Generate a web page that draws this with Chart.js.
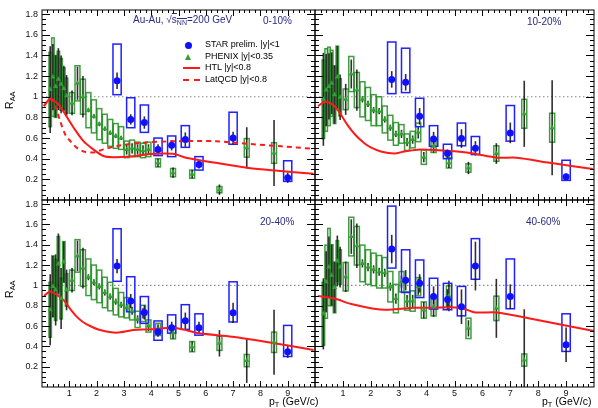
<!DOCTYPE html>
<html>
<head>
<meta charset="utf-8">
<script src="https://cdn.jsdelivr.net/npm/chart.js@4.4.1/dist/chart.umd.min.js"></script>
<style>
  body { margin: 0; background: #fff; }
  #wrap { position: relative; width: 598px; height: 408px; font-family: "Liberation Sans", Arial, sans-serif; }
  #wrap canvas { position: absolute; left: 0; top: 0; }
  .t { position: absolute; white-space: nowrap; line-height: 1; }
  .navy { color: #2b2b86; font-size: 10px; }
  .leg { font-size: 9px; color: #000; }
  .ax { font-size: 10.5px; color: #000; }
  .rot { transform: rotate(-90deg); transform-origin: center center; }
  .ov { text-decoration: overline; }
  sub { font-size: 70%; vertical-align: -2px; line-height: 0; }
</style>
</head>
<body>
<div id="wrap">
  <canvas id="c010" width="598" height="408"></canvas>
  <canvas id="c1020" width="598" height="408"></canvas>
  <canvas id="c2040" width="598" height="408"></canvas>
  <canvas id="c4060" width="598" height="408"></canvas>

  <div class="t navy" style="left:133px;top:15px;">Au-Au, &radic;<span class="ov">s<sub>NN</sub></span>=200 GeV</div>
  <div class="t navy" style="left:263px;top:16px;">0-10%</div>
  <div class="t navy" style="left:527px;top:17px;">10-20%</div>
  <div class="t navy" style="left:260px;top:217px;">20-40%</div>
  <div class="t navy" style="left:526px;top:217px;">40-60%</div>

  <div style="position:absolute;left:185px;top:42px;width:7px;height:7px;border-radius:50%;background:#1010ff;"></div>
  <div class="t leg" style="left:205px;top:40px;">STAR prelim. |y|&lt;1</div>
  <div style="position:absolute;left:185px;top:54px;width:0;height:0;border-left:3.5px solid transparent;border-right:3.5px solid transparent;border-bottom:6px solid #33a033;"></div>
  <div class="t leg" style="left:205px;top:52px;">PHENIX |y|&lt;0.35</div>
  <div style="position:absolute;left:183px;top:67px;width:17px;height:2px;background:#ff1a1a;"></div>
  <div class="t leg" style="left:205px;top:63px;">HTL |y|&lt;0.8</div>
  <div style="position:absolute;left:183px;top:79px;width:17px;height:0;border-top:2px dashed #ff1a1a;"></div>
  <div class="t leg" style="left:205px;top:75px;">LatQCD |y|&lt;0.8</div>

  <div class="t ax rot" style="left:1px;top:95px;">R<sub>AA</sub></div>
  <div class="t ax rot" style="left:1px;top:284px;">R<sub>AA</sub></div>
  <div class="t ax" style="left:269px;top:396px;">p<sub>T</sub> (GeV/c)</div>
  <div class="t ax" style="left:542px;top:396px;">p<sub>T</sub> (GeV/c)</div>
</div>

<script>
// tick labels
const xTicks = [1, 2, 3, 4, 5, 6, 7, 8, 9];
const yTicks = [0.2, 0.4, 0.6, 0.8, 1, 1.2, 1.4, 1.6, 1.8];

// PHENIX |y|<0.35 (value, stat error, systematic half-height)
const phenixPt = [0.3, 0.4, 0.5, 0.6, 0.7, 0.8, 0.9, 1.1, 1.3, 1.5, 1.7, 1.9, 2.1, 2.3, 2.5, 2.7, 2.9, 3.1, 3.3, 3.5, 3.7, 3.9, 4.25, 4.8, 5.5, 6.5, 7.5, 8.5];

const phenix010 = [1.07, 1.19, 1.10, 1.17, 1.12, 1.08, 1.01, 0.94, 1.13, 1.00, 0.87, 0.81, 0.735, 0.69, 0.65, 0.62, 0.60, 0.49, 0.50, 0.49, 0.48, 0.49, 0.36, 0.265, 0.25, 0.10, 0.505, 0.455];
const phenix010Stat = [0.42, 0.32, 0.30, 0.30, 0.28, 0.22, 0.20, 0.12, 0.16, 0.20, 0.02, 0.02, 0.02, 0.02, 0.02, 0.02, 0.02, 0.05, 0.05, 0.05, 0.05, 0.05, 0.04, 0.05, 0.04, 0.05, 0.20, 0.32];
const phenix010Sys = [0.36, 0.38, 0.30, 0.27, 0.25, 0.20, 0.17, 0.10, 0.17, 0.17, 0.17, 0.16, 0.15, 0.14, 0.13, 0.12, 0.11, 0.08, 0.08, 0.07, 0.07, 0.07, 0.04, 0.04, 0.04, 0.03, 0.09, 0.10];

const phenix1020 = [0.975, 1.065, 1.10, 1.13, 1.02, 1.19, 0.995, 0.975, 1.22, 1.065, 0.975, 0.93, 0.87, 0.86, 0.78, 0.70, 0.64, 0.64, 0.56, 0.585, 0.655, 0.415, 0.52, 0.36, 0.31, 0.45, 0.835, 0.70];
const phenix1020Stat = [0.45, 0.35, 0.32, 0.30, 0.28, 0.30, 0.22, 0.15, 0.14, 0.20, 0.03, 0.03, 0.03, 0.03, 0.03, 0.03, 0.03, 0.04, 0.04, 0.04, 0.06, 0.05, 0.06, 0.05, 0.06, 0.10, 0.32, 0.46];
const phenix1020Sys = [0.38, 0.40, 0.38, 0.32, 0.28, 0.30, 0.18, 0.10, 0.17, 0.17, 0.17, 0.16, 0.15, 0.14, 0.13, 0.12, 0.11, 0.09, 0.08, 0.08, 0.09, 0.07, 0.06, 0.05, 0.04, 0.075, 0.14, 0.14];

const phenix2040 = [0.76, 0.99, 0.955, 1.21, 0.87, 1.23, 0.955, 1.05, 1.29, 1.17, 1.08, 1.03, 0.99, 0.93, 0.89, 0.84, 0.81, 0.78, 0.75, 0.665, 0.724, 0.60, 0.567, 0.534, 0.397, 0.43, 0.26, 0.44];
const phenix2040Stat = [0.35, 0.30, 0.35, 0.30, 0.30, 0.20, 0.20, 0.12, 0.15, 0.20, 0.03, 0.03, 0.03, 0.03, 0.03, 0.03, 0.03, 0.04, 0.04, 0.04, 0.05, 0.05, 0.05, 0.06, 0.05, 0.13, 0.22, 0.32];
const phenix2040Sys = [0.27, 0.30, 0.30, 0.27, 0.20, 0.20, 0.16, 0.10, 0.16, 0.18, 0.18, 0.17, 0.16, 0.15, 0.14, 0.13, 0.12, 0.10, 0.09, 0.08, 0.08, 0.06, 0.06, 0.06, 0.05, 0.07, 0.06, 0.10];

const phenix4060 = [0.72, 1.036, 1.18, 1.10, 0.98, 1.24, 1.18, 1.085, 1.48, 1.39, 1.216, 1.18, 1.157, 1.134, 1.124, 0.987, 0.87, 1.036, 0.846, 0.846, 0.987, 0.757, 0.79, 0.895, 0.577, 0.774, 0.265, null];
const phenix4060Stat = [0.35, 0.30, 0.30, 0.30, 0.25, 0.25, 0.20, 0.15, 0.17, 0.22, 0.04, 0.04, 0.04, 0.04, 0.04, 0.04, 0.05, 0.06, 0.06, 0.06, 0.08, 0.08, 0.10, 0.15, 0.08, 0.29, 0.50, 0];
const phenix4060Sys = [0.31, 0.36, 0.38, 0.30, 0.25, 0.20, 0.17, 0.14, 0.19, 0.19, 0.18, 0.17, 0.16, 0.16, 0.15, 0.15, 0.14, 0.10, 0.09, 0.10, 0.09, 0.08, 0.09, 0.10, 0.10, 0.12, 0.06, 0];

// STAR prelim. |y|<1 (value, stat error, systematic box low / high)
const starPt = [2.75, 3.25, 3.75, 4.25, 4.75, 5.25, 5.75, 7.0, 9.0];

const star010 = [1.155, 0.78, 0.75, 0.49, 0.53, 0.585, 0.345, 0.60, 0.216];
const star010Stat = [0.08, 0.05, 0.06, 0.05, 0.05, 0.07, 0.04, 0.06, 0.05];
const star010Lo = [1.02, 0.70, 0.655, 0.43, 0.42, 0.51, 0.29, 0.54, 0.18];
const star010Hi = [1.51, 0.99, 0.92, 0.60, 0.62, 0.72, 0.42, 0.85, 0.38];

const star1020 = [1.168, 1.14, 0.81, 0.59, 0.45, 0.595, 0.50, 0.65, 0.225];
const star1020Stat = [0.08, 0.08, 0.08, 0.07, 0.04, 0.09, 0.07, 0.10, 0.03];
const star1020Lo = [1.03, 1.04, 0.71, 0.52, 0.40, 0.525, 0.44, 0.57, 0.19];
const star1020Hi = [1.53, 1.47, 0.985, 0.72, 0.54, 0.745, 0.615, 0.915, 0.385];

const star2040 = [1.19, 0.846, 0.734, 0.544, 0.583, 0.652, 0.583, 0.73, 0.347];
const star2040Stat = [0.07, 0.07, 0.07, 0.05, 0.06, 0.08, 0.06, 0.10, 0.06];
const star2040Lo = [1.04, 0.74, 0.626, 0.46, 0.53, 0.567, 0.51, 0.64, 0.30];
const star2040Hi = [1.557, 1.085, 0.89, 0.65, 0.71, 0.81, 0.72, 1.035, 0.606];

const star4060 = [1.357, 1.05, 1.02, 0.89, 0.862, 0.79, 1.19, 0.89, 0.416];
const star4060Stat = [0.14, 0.10, 0.09, 0.10, 0.10, 0.17, 0.24, 0.12, 0.17];
const star4060Lo = [1.17, 0.93, 0.88, 0.767, 0.76, 0.70, 1.06, 0.77, 0.35];
const star4060Hi = [1.78, 1.35, 1.25, 1.07, 1.02, 0.99, 1.46, 1.26, 0.72];

// model curves
const htl010Pt = [0.07, 0.3, 0.55, 0.67, 0.86, 1.16, 1.52, 1.88, 2.25, 2.61, 3.34, 3.94, 4.79, 5.27, 6.36, 7.57, 8.54, 9.95];
const htl010 = [0.91, 0.98, 0.94, 0.905, 0.826, 0.70, 0.57, 0.49, 0.426, 0.415, 0.424, 0.445, 0.447, 0.41, 0.36, 0.31, 0.285, 0.255];
const lat010Pt = [0.07, 0.3, 0.5, 0.67, 0.86, 1.04, 1.28, 1.52, 1.88, 2.25, 2.85, 3.58, 4.79, 6.36, 7.57, 8.78, 9.95];
const lat010 = [0.91, 0.98, 0.90, 0.76, 0.63, 0.57, 0.505, 0.47, 0.46, 0.49, 0.527, 0.553, 0.569, 0.569, 0.543, 0.52, 0.495];
const htl1020Pt = [0.11, 0.35, 0.6, 0.82, 1.18, 1.45, 1.77, 2.0, 2.36, 2.84, 3.2, 3.78, 5.09, 5.69, 6.52, 7.23, 8.42, 9.96];
const htl1020 = [0.91, 0.95, 0.93, 0.87, 0.72, 0.63, 0.55, 0.51, 0.47, 0.45, 0.47, 0.49, 0.47, 0.45, 0.41, 0.41, 0.36, 0.30];
const htl2040Pt = [0.07, 0.31, 0.79, 1.0, 1.28, 1.5, 1.76, 2.13, 2.73, 3.34, 3.94, 4.79, 5.15, 5.76, 6.97, 8.18, 9.95];
const htl2040 = [0.895, 0.94, 0.855, 0.78, 0.69, 0.64, 0.60, 0.56, 0.534, 0.56, 0.567, 0.583, 0.567, 0.528, 0.495, 0.446, 0.365];
const htl4060Pt = [0.11, 0.70, 1.30, 2.25, 2.84, 3.56, 4.15, 5.21, 5.74, 6.5, 7.7, 8.89, 9.99];
const htl4060 = [0.895, 0.87, 0.816, 0.764, 0.764, 0.78, 0.78, 0.78, 0.734, 0.734, 0.675, 0.61, 0.55];

const FONT = '"Liberation Sans", Arial, sans-serif';
const xy = (xs, ys) => xs.map((v, i) => ({ x: v, y: ys[i] })).filter(p => p.y != null);

// boxes, error bars and the unity line, drawn through the chart scales
const errorsPlugin = {
  id: 'errors',
  beforeDatasetsDraw(chart) {
    const p = chart.options.plugins.errors;
    const { ctx, chartArea: a } = chart;
    const x = chart.scales.x, y = chart.scales.y;
    ctx.save();
    ctx.beginPath();
    ctx.rect(a.left, a.top, a.right - a.left, a.bottom - a.top);
    ctx.clip();

    const y1 = y.getPixelForValue(1);
    ctx.strokeStyle = '#8a8a8a';
    ctx.lineWidth = 1.2;
    ctx.setLineDash([1.5, 2.5]);
    ctx.beginPath();
    ctx.moveTo(a.left, y1);
    ctx.lineTo(a.right, y1);
    ctx.stroke();
    ctx.setLineDash([]);

    // PHENIX systematic boxes
    ctx.lineWidth = 1.5;
    ctx.strokeStyle = 'rgba(30,140,30,0.85)';
    phenixPt.forEach((pt, i) => {
      const v = p.ph[i];
      if (v == null) return;
      const hw = pt < 1 ? 0.045 : 0.09;
      const l = x.getPixelForValue(pt - hw), r = x.getPixelForValue(pt + hw);
      const t = y.getPixelForValue(v + p.phSys[i]), b = y.getPixelForValue(v - p.phSys[i]);
      ctx.strokeRect(l, t, r - l, b - t);
    });
    // PHENIX stat errors
    ctx.strokeStyle = 'rgba(10,10,10,0.85)';
    ctx.lineWidth = 1.6;
    phenixPt.forEach((pt, i) => {
      const v = p.ph[i];
      if (v == null) return;
      const px = x.getPixelForValue(pt);
      ctx.beginPath();
      ctx.moveTo(px, y.getPixelForValue(v + p.phStat[i]));
      ctx.lineTo(px, y.getPixelForValue(v - p.phStat[i]));
      ctx.stroke();
    });
    // STAR systematic boxes
    ctx.strokeStyle = '#2020ff';
    ctx.lineWidth = 1.5;
    starPt.forEach((pt, i) => {
      const l = x.getPixelForValue(pt - 0.15), r = x.getPixelForValue(pt + 0.15);
      const t = y.getPixelForValue(p.starHi[i]), b = y.getPixelForValue(p.starLo[i]);
      ctx.strokeRect(l, t, r - l, b - t);
    });
    // STAR stat errors
    ctx.strokeStyle = 'rgba(10,10,10,0.85)';
    ctx.lineWidth = 1.6;
    starPt.forEach((pt, i) => {
      const px = x.getPixelForValue(pt);
      ctx.beginPath();
      ctx.moveTo(px, y.getPixelForValue(p.star[i] + p.starStat[i]));
      ctx.lineTo(px, y.getPixelForValue(p.star[i] - p.starStat[i]));
      ctx.stroke();
    });
    ctx.restore();
  },
  afterDraw(chart) {
    // frame with inward ticks on all four sides
    const { ctx, chartArea: a } = chart;
    const x = chart.scales.x, y = chart.scales.y;
    ctx.save();
    ctx.strokeStyle = '#000';
    ctx.lineWidth = 1;
    ctx.strokeRect(a.left, a.top, a.right - a.left, a.bottom - a.top);
    ctx.beginPath();
    for (let k = 1; k < 50; k++) {
      const px = Math.round(x.getPixelForValue(k * 0.2)) + 0.5;
      const len = k % 5 === 0 ? 6 : 3;
      ctx.moveTo(px, a.bottom); ctx.lineTo(px, a.bottom - len);
      ctx.moveTo(px, a.top); ctx.lineTo(px, a.top + len);
    }
    for (let k = 1; k <= 36; k++) {
      const py = Math.round(y.getPixelForValue(k * 0.05)) + 0.5;
      const len = k % 4 === 0 ? 8 : 4;
      ctx.moveTo(a.left, py); ctx.lineTo(a.left + len, py);
      ctx.moveTo(a.right, py); ctx.lineTo(a.right - len, py);
    }
    ctx.stroke();
    ctx.restore();
  }
};

// area = [left, top, right, bottom] of the plot frame in page pixels
function makePanel(id, area, showX, showY, d) {
  const datasets = [
    {
      label: 'STAR prelim. |y|<1', data: xy(starPt, d.star), order: 0,
      pointStyle: 'circle', pointRadius: 3.5, backgroundColor: '#1010ff', borderColor: '#1010ff', borderWidth: 0
    },
    {
      label: 'PHENIX |y|<0.35', data: xy(phenixPt, d.ph), order: 1,
      pointStyle: 'triangle', pointRadius: 3, backgroundColor: '#33a033', borderColor: '#33a033', borderWidth: 0
    },
    {
      label: 'HTL |y|<0.8', data: xy(d.htlPt, d.htl), order: 3, showLine: true,
      pointRadius: 0, borderColor: '#ff1a1a', borderWidth: 2, tension: 0.3
    }
  ];
  if (d.lat) {
    datasets.push({
      label: 'LatQCD |y|<0.8', data: xy(d.latPt, d.lat), order: 3, showLine: true,
      pointRadius: 0, borderColor: '#ff1a1a', borderWidth: 2, borderDash: [5, 4], tension: 0.3
    });
  }
  // axis boxes carry the labels, so left panels get the whole left margin as y axis
  const yW = showY ? area[0] : 0;
  const xH = showX ? 408 - area[3] : 0;
  new Chart(document.getElementById(id), {
    type: 'scatter',
    data: { datasets },
    options: {
      responsive: false,
      animation: false,
      events: [],
      layout: { padding: { left: area[0] - yW, top: area[1], right: 598 - area[2], bottom: 408 - area[3] - xH } },
      plugins: { legend: { display: false }, tooltip: { enabled: false }, errors: d },
      scales: {
        x: {
          type: 'linear', min: 0, max: 10,
          grid: { display: false, drawTicks: false }, border: { display: false },
          ticks: {
            display: showX, autoSkip: false, maxRotation: 0, padding: 1, color: '#111',
            font: { family: FONT, size: 9 }, callback: v => String(v)
          },
          afterBuildTicks: s => { s.ticks = xTicks.map(v => ({ value: v })); },
          afterFit: s => { s.height = xH; }
        },
        y: {
          type: 'linear', min: 0, max: 1.84,
          grid: { display: false, drawTicks: false }, border: { display: false },
          ticks: {
            display: showY, autoSkip: false, padding: 4, color: '#111',
            font: { family: FONT, size: 9 }, callback: v => String(v)
          },
          afterBuildTicks: s => { s.ticks = yTicks.map(v => ({ value: v })); },
          afterFit: s => { s.width = yW; }
        }
      }
    },
    plugins: [errorsPlugin]
  });
}

makePanel('c010', [42, 10, 315, 200], false, true, {
  ph: phenix010, phStat: phenix010Stat, phSys: phenix010Sys,
  star: star010, starStat: star010Stat, starLo: star010Lo, starHi: star010Hi,
  htlPt: htl010Pt, htl: htl010, latPt: lat010Pt, lat: lat010
});
makePanel('c1020', [315, 10, 595, 200], false, false, {
  ph: phenix1020, phStat: phenix1020Stat, phSys: phenix1020Sys,
  star: star1020, starStat: star1020Stat, starLo: star1020Lo, starHi: star1020Hi,
  htlPt: htl1020Pt, htl: htl1020
});
makePanel('c2040', [42, 200, 315, 387], true, true, {
  ph: phenix2040, phStat: phenix2040Stat, phSys: phenix2040Sys,
  star: star2040, starStat: star2040Stat, starLo: star2040Lo, starHi: star2040Hi,
  htlPt: htl2040Pt, htl: htl2040
});
makePanel('c4060', [315, 200, 595, 387], true, false, {
  ph: phenix4060, phStat: phenix4060Stat, phSys: phenix4060Sys,
  star: star4060, starStat: star4060Stat, starLo: star4060Lo, starHi: star4060Hi,
  htlPt: htl4060Pt, htl: htl4060
});
</script>
</body>
</html>
